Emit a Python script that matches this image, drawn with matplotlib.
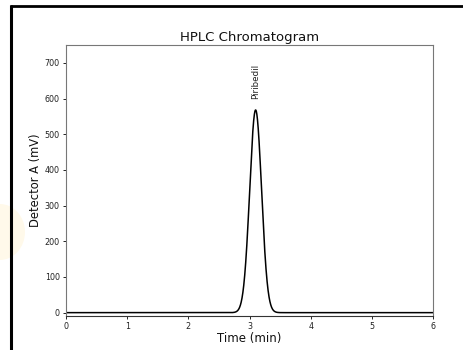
import numpy as np
import matplotlib
matplotlib.use('Agg')
import matplotlib.pyplot as plt
from matplotlib.lines import Line2D
from matplotlib.patches import Ellipse

# Peak table
peak_names = ['Piribedil']
retention_times = [3.10]   # min
peak_heights = [568.0]     # mV
peak_sigmas = [0.097]      # min

run_time = 6.0
x_ticks = [0, 1, 2, 3, 4, 5, 6]
y_ticks = [0, 100, 200, 300, 400, 500, 600, 700]

# Build the detector trace from the peak table
time = np.linspace(0, run_time, 3001)
signal = np.zeros_like(time)
for rt, h, s in zip(retention_times, peak_heights, peak_sigmas):
    signal += h * np.exp(-0.5 * ((time - rt) / s) ** 2)

W, H = 463, 350
fig = plt.figure(figsize=(W / 100, H / 100), dpi=100)

# screenshot frame (left and top edges) and faint highlight
fig.add_artist(Ellipse((0, 1 - 232 / H), 50 / W, 56 / H, transform=fig.transFigure,
                       color='#fff6dc', alpha=0.6, lw=0, zorder=0))
fig.add_artist(Line2D([10.5 / W, 10.5 / W], [0, 1 - 5 / H], transform=fig.transFigure,
                      color='black', lw=2.2, solid_capstyle='butt'))
fig.add_artist(Line2D([9.5 / W, 1], [1 - 5.5 / H, 1 - 5.5 / H], transform=fig.transFigure,
                      color='black', lw=2.0, solid_capstyle='butt'))

ax = fig.add_axes([66 / W, 1 - 315.5 / H, (433 - 66) / W, (315.5 - 45) / H])
ax.plot(time, signal, color='black', lw=1.1)

for name, rt, h in zip(peak_names, retention_times, peak_heights):
    ax.text(rt, h + 32, name, rotation=90, ha='center', va='bottom', fontsize=6.3,
            color='#222222')

ax.set_xlim(0, run_time)
ax.set_ylim(-8, 750)
ax.set_xticks(x_ticks)
ax.set_yticks(y_ticks)
ax.tick_params(labelsize=5.8, length=2.5, width=0.6, pad=2, labelcolor='#222222')
for sp in ax.spines.values():
    sp.set_color('#777777')
    sp.set_linewidth(0.8)
ax.spines['bottom'].set_color('#333333')

ax.set_title('HPLC Chromatogram', fontsize=9.5, pad=3, color='#111111')
ax.set_xlabel('Time (min)', fontsize=8.5, labelpad=1, color='#111111')
ax.set_ylabel('Detector A (mV)', fontsize=8.3, labelpad=2, color='#111111')

fig.savefig('out.png', dpi=100)
